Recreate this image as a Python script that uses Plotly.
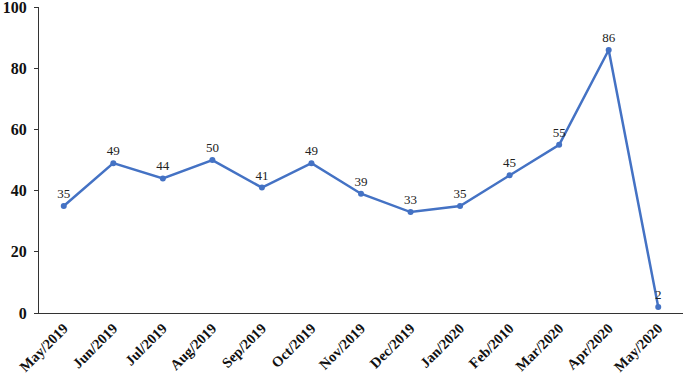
import plotly.graph_objects as go

months = ["May/2019", "Jun/2019", "Jul/2019", "Aug/2019", "Sep/2019", "Oct/2019",
          "Nov/2019", "Dec/2019", "Jan/2020", "Feb/2010", "Mar/2020", "Apr/2020", "May/2020"]
values = [35, 49, 44, 50, 41, 49, 39, 33, 35, 45, 55, 86, 2]
y_ticks = [0, 20, 40, 60, 80, 100]

FONT = "Liberation Serif, Times New Roman, serif"

fig = go.Figure()
fig.add_trace(go.Scatter(
    x=months, y=values, mode="lines+markers+text",
    line=dict(color="#4472C4", width=2.5),
    marker=dict(color="#4472C4", size=6),
    text=[str(v) for v in values], textposition="top center",
    textfont=dict(family=FONT, size=13, color="#222222"),
    cliponaxis=False,
))
fig.update_layout(
    width=685, height=384,
    margin=dict(l=39, r=2, t=7, b=71, autoexpand=False),
    plot_bgcolor="white", paper_bgcolor="white",
    showlegend=False,
    font=dict(family=FONT, color="#111111"),
)
fig.update_xaxes(
    type="category", range=[-0.5, len(months) - 0.5],
    showline=True, linecolor="#333333", linewidth=1.2,
    showgrid=False, ticks="",
    tickangle=-45, automargin=False, ticklabeloverflow="allow",
    tickfont=dict(family=FONT, size=14.5, weight="bold", color="#111111"),
)
fig.update_yaxes(
    range=[0, 100.05], tickvals=y_ticks, showline=True, linecolor="#333333", linewidth=1.2,
    showgrid=False, ticks="outside", ticklen=4, tickcolor="#333333", zeroline=False,
    automargin=False, ticklabeloverflow="allow", ticklabelstandoff=4,
    tickfont=dict(family=FONT, size=16, weight="bold", color="#111111"),
)
fig.write_html("out.html", config={"displayModeBar": False},
               post_script="document.body.style.margin='0';")
